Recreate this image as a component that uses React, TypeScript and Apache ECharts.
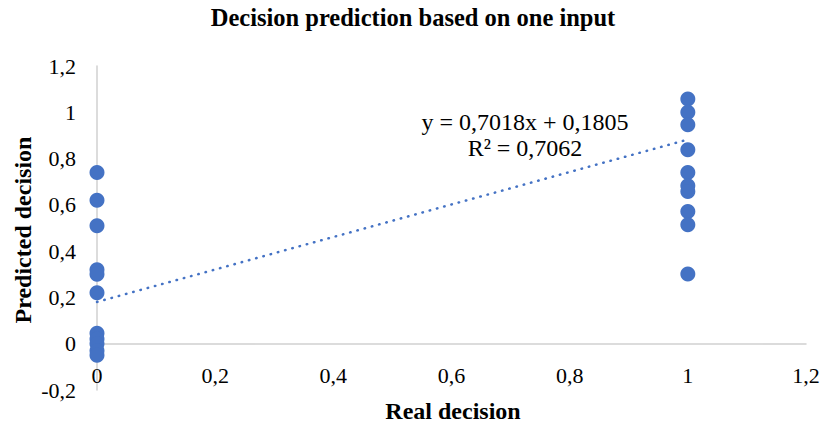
import React, { useEffect, useRef } from "react";
import * as echarts from "echarts";

const TITLE = "Decision prediction based on one input";
const X_NAME = "Real decision";
const Y_NAME = "Predicted decision";

// Predicted values for real decision = 0
const predictedAtZero = [0.74, 0.62, 0.51, 0.32, 0.3, 0.22, 0.045, 0.02, 0.0, -0.03, -0.05];
// Predicted values for real decision = 1
const predictedAtOne = [1.057, 1.0, 0.946, 0.838, 0.74, 0.683, 0.658, 0.571, 0.514, 0.301];

// Linear trendline reported in the chart
const SLOPE = 0.7018;
const INTERCEPT = 0.1805;
const R2 = 0.7062;
const TREND_X = [0, 1];

const fmt = (v: number) => {
  const r = Math.round(v * 10000) / 10000;
  return String(r).replace(".", ",");
};

export default function App() {
  const ref = useRef<HTMLDivElement>(null);
  useEffect(() => {
    if (!ref.current) return;
    const chart = echarts.init(ref.current, undefined, { renderer: "svg" });
    const points = [
      ...predictedAtZero.map((v) => [0, v]),
      ...predictedAtOne.map((v) => [1, v]),
    ];
    const trend = TREND_X.map((x) => [x, SLOPE * x + INTERCEPT]);
    const font = "'Liberation Serif', 'Times New Roman', serif";
    chart.setOption({
      animation: false,
      backgroundColor: "#ffffff",
      title: {
        text: TITLE,
        left: "center",
        top: 0,
        textStyle: { fontFamily: font, fontWeight: "bold", fontSize: 24.5, color: "#000" },
      },
      grid: { left: 97, right: 20, top: 66, bottom: 34, containLabel: false, outerBoundsMode: "none" },
      xAxis: {
        type: "value",
        min: 0,
        max: 1.2,
        interval: 0.2,
        axisLine: { show: true, onZero: true, lineStyle: { color: "#d0d0d0", width: 1.5 } },
        axisTick: { show: false },
        splitLine: { show: false },
        axisLabel: {
          margin: -26,
          fontFamily: font,
          fontSize: 22,
          color: "#000",
          formatter: (v: number) => fmt(v),
        },
      },
      yAxis: {
        type: "value",
        min: -0.2,
        max: 1.2,
        interval: 0.2,
        axisLine: { show: true, onZero: false, lineStyle: { color: "#d0d0d0", width: 1.5 } },
        axisTick: { show: false },
        splitLine: { show: false },
        axisLabel: {
          margin: 21,
          fontFamily: font,
          fontSize: 22,
          color: "#000",
          formatter: (v: number) => fmt(v),
        },
      },
      series: [
        {
          type: "line",
          data: trend,
          symbol: "none",
          silent: true,
          z: 3,
          lineStyle: { color: "#4472C4", width: 2.5, type: [0.5, 7], cap: "round" },
        },
        {
          type: "scatter",
          data: points,
          symbolSize: 15,
          z: 2,
          itemStyle: { color: "#4472C4", opacity: 1 },
        },
      ],
      graphic: [
        {
          type: "text",
          x: 453,
          y: 411,
          style: {
            text: X_NAME,
            font: `bold 24px ${font}`,
            fill: "#000",
            textAlign: "center",
            textVerticalAlign: "middle",
          },
        },
        {
          type: "text",
          x: 23,
          y: 230,
          rotation: Math.PI / 2,
          style: {
            text: Y_NAME,
            font: `bold 24px ${font}`,
            fill: "#000",
            textAlign: "center",
            textVerticalAlign: "middle",
          },
        },
        {
          type: "text",
          x: 525,
          y: 122,
          style: {
            text: `y = ${fmt(SLOPE)}x + ${fmt(INTERCEPT)}`,
            font: `24px ${font}`,
            fill: "#000",
            textAlign: "center",
            textVerticalAlign: "middle",
          },
        },
        {
          type: "text",
          x: 525,
          y: 148,
          style: {
            text: `R² = ${fmt(R2)}`,
            font: `24px ${font}`,
            fill: "#000",
            textAlign: "center",
            textVerticalAlign: "middle",
          },
        },
      ],
    });
    return () => chart.dispose();
  }, []);
  return <div ref={ref} style={{ width: 826, height: 424, position: "absolute", left: 0, top: 0 }} />;
}
